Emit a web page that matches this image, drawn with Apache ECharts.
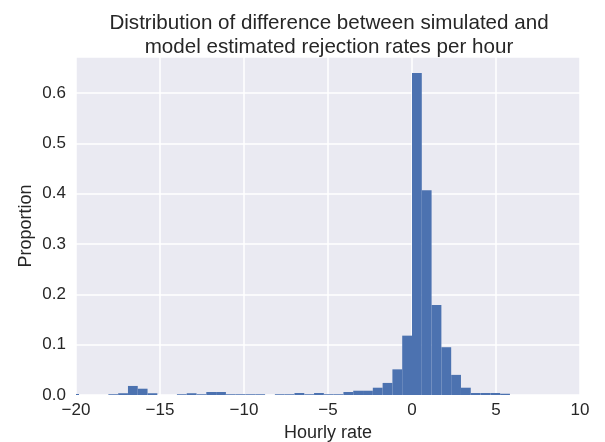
<!DOCTYPE html>
<html>
<head>
<meta charset="utf-8">
<script src="https://cdn.jsdelivr.net/npm/echarts@6/dist/echarts.min.js"></script>
<style>
  html, body { margin: 0; padding: 0; background: #fff; }
  #chartDom { width: 605px; height: 442px; }
</style>
</head>
<body>
<div id="chartDom"></div>
<script>
// histogram bins: first left edge and bin width (hourly rate)
var firstEdge = -20.405;
var binWidth = 0.583;
// proportion per bin, left to right
var proportions = [
  0.002, 0, 0, 0, 0.0015, 0.0035, 0.018, 0.0125, 0.0035, 0,
  0, 0.0015, 0.0035, 0.0015, 0.006, 0.006, 0.0015, 0.0015, 0.0015, 0.0015,
  0, 0.0015, 0.0015, 0.004, 0.0015, 0.004, 0.0015, 0.0015, 0.006, 0.0085,
  0.0085, 0.0145, 0.024, 0.051, 0.118, 0.640, 0.407, 0.179, 0.095, 0.040,
  0.0145, 0.004, 0.004, 0.004, 0.0025
];
var xTicks = [-20, -15, -10, -5, 0, 5, 10];
var yTicks = [0, 0.1, 0.2, 0.3, 0.4, 0.5, 0.6];

var xMin = -20, xMax = 10;
var yMax = 0.672;

var binData = proportions.map(function (p, i) {
  var start = firstEdge + i * binWidth;
  return [start, start + binWidth, p];
});

var font = "'Liberation Sans', Arial, sans-serif";
var textColor = '#262626';

var myChart = echarts.init(document.getElementById('chartDom'));
var option = {
  backgroundColor: '#ffffff',
  animation: false,
  title: {
    text: 'Distribution of difference between simulated and\nmodel estimated rejection rates per hour',
    left: 324,
    top: 6,
    textAlign: 'center',
    textStyle: {
      fontFamily: font,
      fontSize: 20.6,
      fontWeight: 'normal',
      color: textColor,
      lineHeight: 24
    }
  },
  grid: {
    left: 76,
    right: 25,
    top: 57,
    bottom: 47,
    outerBoundsMode: 'none',
    show: true,
    backgroundColor: '#EAEAF2',
    borderWidth: 0
  },
  xAxis: {
    type: 'value',
    min: xMin,
    max: xMax,
    interval: 5,
    name: 'Hourly rate',
    nameLocation: 'middle',
    nameGap: 29,
    nameMoveOverlap: false,
    nameTextStyle: { fontFamily: font, fontSize: 18, color: textColor },
    axisLine: { show: false },
    axisTick: { show: false },
    splitLine: { show: true, lineStyle: { color: '#ffffff', width: 1.5 } },
    axisLabel: {
      margin: 7,
      fontFamily: font,
      fontSize: 17,
      color: textColor,
      formatter: function (v) {
        if (xTicks.indexOf(v) < 0) return '';
        return v < 0 ? '\u2212' + Math.abs(v) : String(v);
      }
    }
  },
  yAxis: {
    type: 'value',
    min: 0,
    max: yMax,
    interval: 0.1,
    name: 'Proportion',
    nameLocation: 'middle',
    nameGap: 41,
    nameMoveOverlap: false,
    nameTextStyle: { fontFamily: font, fontSize: 18, color: textColor },
    axisLine: { show: false },
    axisTick: { show: false },
    splitLine: { show: true, lineStyle: { color: '#ffffff', width: 1.5 } },
    axisLabel: {
      margin: 10,
      fontFamily: font,
      fontSize: 17,
      color: textColor,
      showMaxLabel: false,
      formatter: function (v) {
        for (var i = 0; i < yTicks.length; i++) {
          if (Math.abs(yTicks[i] - v) < 1e-6) return yTicks[i].toFixed(1);
        }
        return '';
      }
    }
  },
  series: [
    {
      type: 'custom',
      data: binData,
      encode: { x: [0, 1], y: 2 },
      renderItem: function (params, api) {
        var h = api.value(2);
        if (!h) return null;
        var topLeft = api.coord([Math.max(api.value(0), xMin), h]);
        var bottomRight = api.coord([api.value(1), 0]);
        return {
          type: 'rect',
          shape: {
            x: topLeft[0],
            y: topLeft[1],
            width: bottomRight[0] - topLeft[0],
            height: bottomRight[1] - topLeft[1]
          },
          style: { fill: '#4C72B0' }
        };
      }
    }
  ]
};
option && myChart.setOption(option);
</script>
</body>
</html>
